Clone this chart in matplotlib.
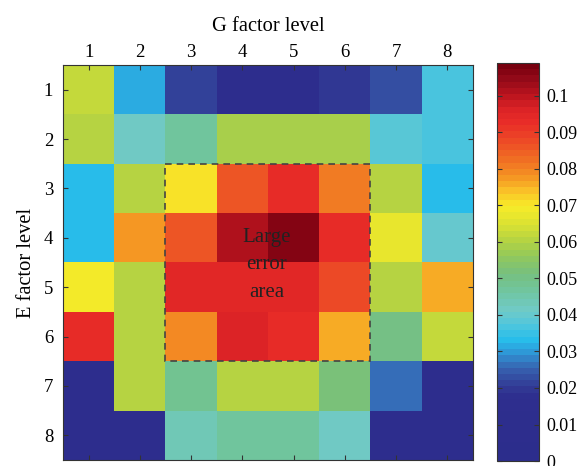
import numpy as np
import matplotlib
matplotlib.use("Agg")
import matplotlib.pyplot as plt
from matplotlib.colors import LinearSegmentedColormap
from matplotlib.patches import Rectangle

plt.rcParams['font.family'] = ['Liberation Serif', 'DejaVu Serif']

# ---- data ----
g_levels = [1, 2, 3, 4, 5, 6, 7, 8]
e_levels = [1, 2, 3, 4, 5, 6, 7, 8]
row_e1 = [0.063, 0.031, 0.022, 0.012, 0.012, 0.019, 0.023, 0.036]
row_e2 = [0.060, 0.042, 0.046, 0.059, 0.058, 0.058, 0.039, 0.036]
row_e3 = [0.033, 0.060, 0.071, 0.086, 0.092, 0.081, 0.061, 0.033]
row_e4 = [0.033, 0.077, 0.086, 0.101, 0.107, 0.093, 0.067, 0.040]
row_e5 = [0.069, 0.060, 0.094, 0.094, 0.094, 0.087, 0.060, 0.075]
row_e6 = [0.092, 0.061, 0.080, 0.097, 0.093, 0.075, 0.050, 0.062]
row_e7 = [0.010, 0.060, 0.048, 0.060, 0.060, 0.052, 0.026, 0.010]
row_e8 = [0.010, 0.010, 0.043, 0.047, 0.047, 0.041, 0.010, 0.010]
cbar_ticks = [0, 0.01, 0.02, 0.03, 0.04, 0.05, 0.06, 0.07, 0.08, 0.09, 0.1]
cbar_labels = ["0", "0.01", "0.02", "0.03", "0.04", "0.05", "0.06", "0.07", "0.08", "0.09", "0.1"]
vmax = 0.109

errors = np.array([row_e1, row_e2, row_e3, row_e4, row_e5, row_e6, row_e7, row_e8])

# ---- colormap (MATLAB-like custom) ----
anchors = [
    (0.000, (44, 45, 140)),
    (0.017, (46, 46, 142)),
    (0.020, (50, 60, 150)),
    (0.025, (55, 98, 176)),
    (0.030, (45, 160, 220)),
    (0.033, (40, 190, 235)),
    (0.037, (80, 198, 220)),
    (0.041, (112, 202, 200)),
    (0.046, (112, 198, 162)),
    (0.051, (118, 192, 128)),
    (0.056, (145, 200, 92)),
    (0.060, (178, 210, 68)),
    (0.065, (218, 226, 50)),
    (0.070, (248, 236, 40)),
    (0.074, (250, 195, 40)),
    (0.078, (245, 150, 35)),
    (0.083, (240, 110, 35)),
    (0.088, (237, 75, 38)),
    (0.093, (233, 45, 40)),
    (0.097, (220, 35, 38)),
    (0.101, (185, 20, 30)),
    (0.105, (150, 10, 25)),
    (0.109, (120, 0, 15)),
]
cmap = LinearSegmentedColormap.from_list(
    "custom", [(p / vmax, tuple(c / 255 for c in col)) for p, col in anchors], N=64)

# ---- figure ----
fig = plt.figure(figsize=(5.78, 4.66), dpi=100)
ax = fig.add_axes([0.109, 0.0129, 0.709, 0.8476])
im = ax.imshow(errors, cmap=cmap, vmin=0, vmax=vmax, aspect='auto',
               interpolation='nearest',
               extent=(0.5, len(g_levels) + 0.5, len(e_levels) + 0.5, 0.5))

ax.set_xticks(g_levels)
ax.set_yticks(e_levels)
ax.set_xticklabels([str(v) for v in g_levels])
ax.set_yticklabels([str(v) for v in e_levels])
ax.tick_params(axis='both', direction='in', length=3.5, width=0.8, color='#333333',
               labelsize=13.5, top=True, bottom=True, left=True, right=True,
               labeltop=True, labelbottom=False, labelleft=True, labelright=False)
ax.tick_params(axis='x', pad=3)
ax.tick_params(axis='y', pad=7)
ax.xaxis.set_label_position('top')
ax.set_xlabel("G factor level", fontsize=14.8, labelpad=9)
ax.set_ylabel("E factor level", fontsize=14.8, labelpad=6)
for s in ax.spines.values():
    s.set_color('#333333')
    s.set_linewidth(0.8)

# dashed region
ax.add_patch(Rectangle((2.5, 2.5), 4, 4, fill=False, edgecolor='#444444',
                       linestyle=(0, (4, 3)), linewidth=1.2))
ax.text(4.48, 4.55, "Large\nerror\narea", ha='center', va='center',
        fontsize=15, color='#222222', linespacing=1.58)

# colorbar
cax = fig.add_axes([0.860, 0.0107, 0.0727, 0.8540])
cb = fig.colorbar(im, cax=cax, ticks=cbar_ticks)
cb.ax.set_yticklabels(cbar_labels)
cb.outline.set_edgecolor('#333333')
cb.outline.set_linewidth(0.8)
cax.tick_params(direction='in', left=True, right=True, length=3.5, width=0.8,
                color='#333333', labelsize=13, pad=5)

fig.savefig("out.png", dpi=100)
